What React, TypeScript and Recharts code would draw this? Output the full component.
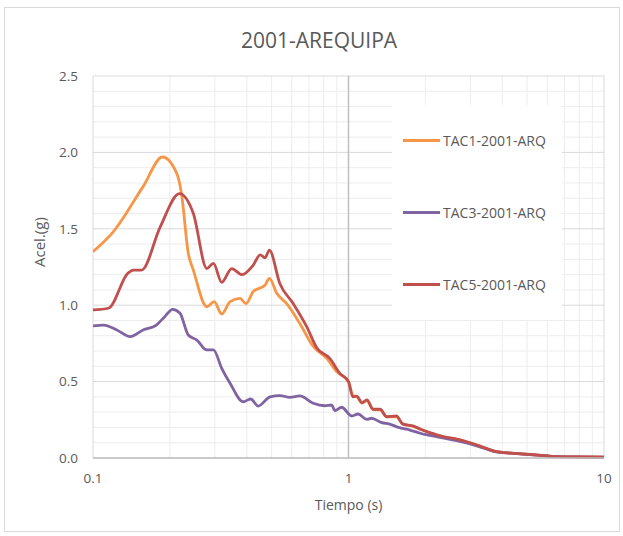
import {
  LineChart,
  Line,
  XAxis,
  YAxis,
  ReferenceLine,
} from 'recharts';

// Period (s) and spectral acceleration (g) for each record
const tac1T = [0.1, 0.12, 0.157, 0.187, 0.213, 0.222, 0.236, 0.247, 0.279, 0.298, 0.319, 0.344, 0.376, 0.397, 0.424, 0.471, 0.49, 0.524, 0.573, 0.645, 0.728, 0.822, 0.899, 1.0, 1.04, 1.08, 1.13, 1.18, 1.25, 1.33, 1.41, 1.54, 1.63, 1.8, 1.91, 2.08, 2.35, 2.57, 2.99, 3.37, 3.81, 4.52, 5.45, 6.54, 7.8, 10];
const tac1A = [1.35, 1.48, 1.776, 1.97, 1.86, 1.73, 1.34, 1.23, 0.99, 1.023, 0.942, 1.023, 1.045, 1.01, 1.09, 1.13, 1.176, 1.078, 1.01, 0.88, 0.73, 0.652, 0.565, 0.5, 0.41, 0.4, 0.36, 0.375, 0.315, 0.315, 0.27, 0.27, 0.225, 0.205, 0.19, 0.165, 0.138, 0.128, 0.1, 0.068, 0.04, 0.03, 0.019, 0.01, 0.007, 0.005];

const tac3T = [0.1, 0.11, 0.124, 0.14, 0.157, 0.177, 0.191, 0.205, 0.219, 0.236, 0.255, 0.279, 0.296, 0.319, 0.344, 0.387, 0.414, 0.443, 0.493, 0.539, 0.59, 0.645, 0.728, 0.809, 0.859, 0.885, 0.94, 1.03, 1.09, 1.18, 1.23, 1.35, 1.45, 1.57, 1.74, 1.91, 2.28, 2.65, 2.99, 3.37, 3.81, 4.52, 5.45, 6.54, 7.8, 10];
const tac3A = [0.864, 0.87, 0.838, 0.794, 0.838, 0.87, 0.925, 0.973, 0.947, 0.805, 0.772, 0.707, 0.707, 0.587, 0.489, 0.368, 0.386, 0.34, 0.4, 0.408, 0.397, 0.406, 0.358, 0.342, 0.347, 0.31, 0.332, 0.275, 0.288, 0.253, 0.26, 0.231, 0.222, 0.2, 0.183, 0.162, 0.135, 0.113, 0.092, 0.066, 0.04, 0.029, 0.019, 0.009, 0.007, 0.005];

const tac5T = [0.1, 0.115, 0.137, 0.144, 0.155, 0.183, 0.218, 0.247, 0.279, 0.296, 0.319, 0.349, 0.383, 0.424, 0.451, 0.471, 0.49, 0.539, 0.608, 0.686, 0.752, 0.845, 0.925, 1.0, 1.04, 1.077, 1.13, 1.18, 1.25, 1.33, 1.41, 1.54, 1.63, 1.8, 1.91, 2.08, 2.35, 2.57, 2.99, 3.37, 3.81, 4.52, 5.45, 6.54, 7.8, 10];
const tac5A = [0.969, 0.98, 1.21, 1.23, 1.23, 1.51, 1.73, 1.6, 1.24, 1.274, 1.15, 1.24, 1.2, 1.263, 1.33, 1.31, 1.36, 1.14, 1.01, 0.86, 0.72, 0.652, 0.554, 0.5, 0.4, 0.405, 0.362, 0.38, 0.319, 0.319, 0.27, 0.275, 0.222, 0.209, 0.188, 0.166, 0.14, 0.129, 0.1, 0.07, 0.041, 0.03, 0.02, 0.009, 0.007, 0.005];

const seriesNames = ['TAC1-2001-ARQ', 'TAC3-2001-ARQ', 'TAC5-2001-ARQ'];
const seriesColors = ['#F79646', '#8064A2', '#C0504D'];

const xTicks = [0.1, 1, 10];
const yTicks = [0, 0.5, 1, 1.5, 2, 2.5];
const xMinor = [0.2, 0.3, 0.4, 0.5, 0.6, 0.7, 0.8, 0.9, 2, 3, 4, 5, 6, 7, 8, 9];
const yMinor = [0.1, 0.2, 0.3, 0.4, 0.6, 0.7, 0.8, 0.9, 1.1, 1.2, 1.3, 1.4, 1.6, 1.7, 1.8, 1.9, 2.1, 2.2, 2.3, 2.4];

const toRows = (t: number[], a: number[]) => t.map((x, i) => ({ t: x, a: a[i] }));
const series = [toRows(tac1T, tac1A), toRows(tac3T, tac3A), toRows(tac5T, tac5A)];

const FONT = '"Open Sans", "Liberation Sans", sans-serif';
const GREY = '#595959';

// legend sits over the plot, inside a white box
function LegendBox() {
  return (
    <div
      style={{
        position: 'absolute',
        left: 392,
        top: 105,
        background: '#fff',
        width: 170,
        height: 215,
        display: 'flex',
        flexDirection: 'column',
        justifyContent: 'space-around',
        fontSize: 14,
        color: GREY,
      }}
    >
      {seriesNames.map((n, i) => (
        <div key={n} style={{ display: 'flex', alignItems: 'center', paddingLeft: 11 }}>
          <span style={{ width: 37, height: 3, background: seriesColors[i], marginRight: 3 }} />
          <span>{n}</span>
        </div>
      ))}
    </div>
  );
}

export default function App() {
  return (
    <div
      style={{
        position: 'absolute',
        left: 0,
        top: 0,
        width: 623,
        height: 536,
        background: '#fff',
        fontFamily: FONT,
      }}
    >
      <div
        style={{
          position: 'absolute',
          left: 4,
          top: 7,
          width: 614,
          height: 523,
          border: '1px solid #d9d9d9',
        }}
      />
      <div
        style={{
          position: 'absolute',
          left: 0,
          width: 638,
          top: 26,
          textAlign: 'center',
          fontSize: 21,
          color: GREY,
        }}
      >
        2001-AREQUIPA
      </div>
      <div style={{ position: 'absolute', left: 0, top: 0 }}>
        <LineChart
          width={623}
          height={536}
          margin={{ top: 76, right: 19, left: 53, bottom: 48 }}
        >
          {xMinor.map((v) => (
            <ReferenceLine key={'x' + v} x={v} stroke="#ededed" strokeWidth={1} />
          ))}
          {yMinor.map((v) => (
            <ReferenceLine key={'y' + v} y={v} stroke="#ededed" strokeWidth={1} />
          ))}
          {yTicks.map((v) => (
            <ReferenceLine key={'Y' + v} y={v} stroke="#d9d9d9" strokeWidth={1} />
          ))}
          <ReferenceLine x={0.1} stroke="#d9d9d9" />
          <ReferenceLine x={10} stroke="#d9d9d9" />
          <ReferenceLine x={1} stroke="#bfbfbf" strokeWidth={1.5} />
          <XAxis
            type="number"
            dataKey="t"
            scale="log"
            domain={[0.1, 10]}
            ticks={xTicks}
            allowDataOverflow
            height={30}
            tickSize={0}
            tickMargin={15}
            axisLine={{ stroke: '#bfbfbf', strokeWidth: 1.5 }}
            tick={{ fill: GREY, fontSize: 13.5, fontFamily: FONT }}
            label={{ value: 'Tiempo (s)', position: 'insideBottom', offset: -22, fill: GREY, fontSize: 14, fontFamily: FONT }}
          />
          <YAxis
            type="number"
            domain={[0, 2.5]}
            ticks={yTicks}
            width={40}
            tickSize={0}
            tickMargin={15}
            axisLine={false}
            tickFormatter={(v: number) => v.toFixed(1)}
            tick={{ fill: GREY, fontSize: 13.5, fontFamily: FONT }}
            label={{ value: 'Acel.(g)', angle: -90, position: 'insideLeft', offset: -13, fill: GREY, fontSize: 15, fontFamily: FONT }}
          />
          {series.map((d, i) => (
            <Line
              key={seriesNames[i]}
              data={d}
              dataKey="a"
              name={seriesNames[i]}
              type="monotone"
              stroke={seriesColors[i]}
              strokeWidth={2.8}
              dot={false}
              activeDot={false}
              isAnimationActive={false}
            />
          ))}
        </LineChart>
      </div>
      <LegendBox />
    </div>
  );
}
